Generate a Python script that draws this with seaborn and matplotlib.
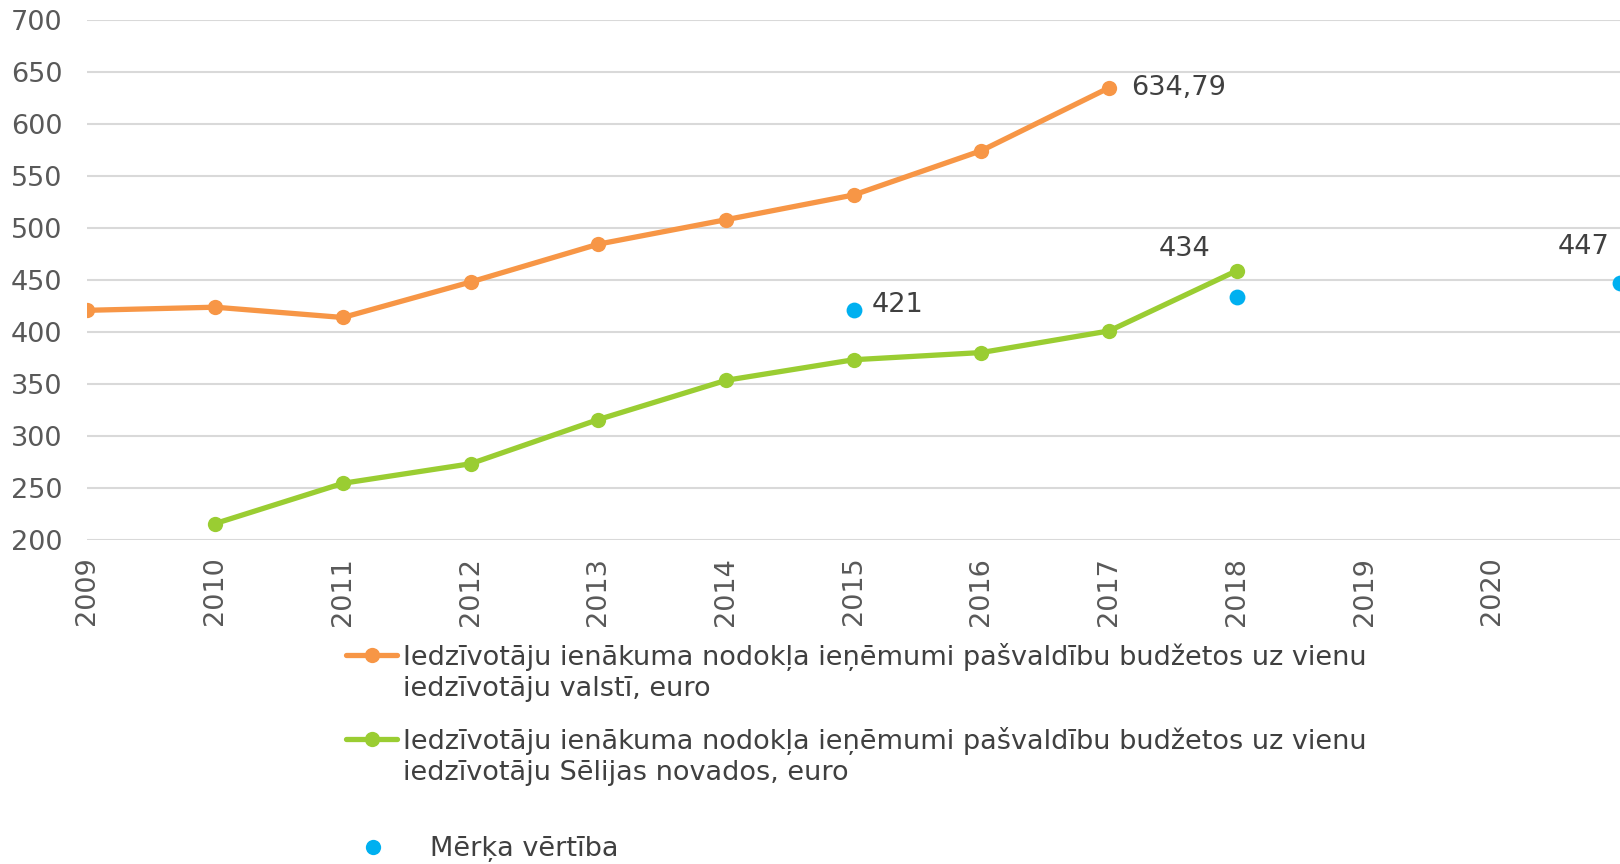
import pandas as pd
import seaborn as sns
import matplotlib.pyplot as plt
from matplotlib.lines import Line2D

# --- data ---
years = [2009, 2010, 2011, 2012, 2013, 2014, 2015, 2016, 2017, 2018]
valsts = [420.8, 423.8, 413.9, 448.0, 484.4, 507.9, 531.7, 574.3, 634.79, None]
selija = [None, 215.8, 254.5, 273.3, 315.8, 353.5, 373.3, 380.2, 401.0, 458.9]
target_years = [2015, 2018, 2021]
target_vals = [421, 434, 447]
target_labels = ['421', '434', '447']
tick_years = list(range(2009, 2021))

name_valsts = 'Iedzīvotāju ienākuma nodokļa ieņēmumi pašvaldību budžetos uz vienu\niedzīvotāju valstī, euro'
name_selija = 'Iedzīvotāju ienākuma nodokļa ieņēmumi pašvaldību budžetos uz vienu\niedzīvotāju Sēlijas novados, euro'
name_target = 'Mērķa vērtība'

c_orange = '#F79646'
c_green = '#9ACD32'
c_blue = '#00B0F0'
txt = '#404040'
FS = 19.5

df = pd.DataFrame({'year': years, name_valsts: valsts, name_selija: selija})
long = df.melt(id_vars='year', var_name='series', value_name='value').dropna()
tdf = pd.DataFrame({'year': target_years, 'value': target_vals})

sns.set_theme(style='white')
plt.rcParams['font.family'] = ['DejaVu Sans']

fig = plt.figure(figsize=(16.2, 8.64), dpi=100)
ax = fig.add_axes([0.054, 0.375, 0.946, 0.602])

sns.lineplot(data=long, x='year', y='value', hue='series',
             palette={name_valsts: c_orange, name_selija: c_green},
             marker='o', markersize=11, markeredgewidth=0, linewidth=3.8,
             legend=False, ax=ax, zorder=3)
sns.scatterplot(data=tdf, x='year', y='value', color=c_blue, s=130,
                linewidth=0, ax=ax, zorder=4)

ax.set_xlim(2009, 2021)
ax.set_ylim(200, 700)
ax.set_yticks(range(200, 701, 50))
ax.set_xticks(tick_years)
ax.set_xticklabels([str(y) for y in tick_years], rotation=90)
ax.tick_params(axis='both', length=0, labelsize=FS, colors='#595959')
ax.tick_params(axis='x', pad=12)
ax.tick_params(axis='y', pad=18)
ax.yaxis.grid(True, color='#D9D9D9', linewidth=1.5)
ax.set_axisbelow(True)
for s in ax.spines.values():
    s.set_visible(False)
ax.set_xlabel('')
ax.set_ylabel('')

# data labels
ax.annotate('634,79', (years[8], valsts[8]), xytext=(16, 0), textcoords='offset points',
            ha='left', va='center', fontsize=FS, color=txt)
ax.annotate(target_labels[0], (target_years[0], target_vals[0]), xytext=(13, 4),
            textcoords='offset points', ha='left', va='center', fontsize=FS, color=txt)
ax.annotate(target_labels[1], (target_years[1], target_vals[1]), xytext=(-38, 34),
            textcoords='offset points', ha='center', va='center', fontsize=FS, color=txt)
ax.annotate(target_labels[2], (target_years[2], target_vals[2]), xytext=(-26, 26),
            textcoords='offset points', ha='center', va='center', fontsize=FS, color=txt)


# legend: one block per entry, second text line gets an empty handle
def legend_block(handle, label, top):
    first, *rest = label.split('\n')
    handles = [handle] + [Line2D([], [], lw=0)] * len(rest)
    leg = fig.legend(handles, [first] + rest, loc='upper left', bbox_to_anchor=(0.2136, top),
                     frameon=False, fontsize=FS, handlelength=1.9, handletextpad=0.2,
                     labelspacing=0.2, borderpad=0, borderaxespad=0, labelcolor=txt)
    return leg


h1 = Line2D([0], [0], color=c_orange, lw=3.8, marker='o', markersize=11, markeredgewidth=0)
h2 = Line2D([0], [0], color=c_green, lw=3.8, marker='o', markersize=11, markeredgewidth=0)
legend_block(h1, name_valsts, 0.256)
legend_block(h2, name_selija, 0.159)

h3 = Line2D([0], [0], color=c_blue, lw=0, marker='o', markersize=11, markeredgewidth=0)
fig.legend([h3], [name_target], loc='upper left', bbox_to_anchor=(0.222, 0.032),
           frameon=False, fontsize=FS, handlelength=1.0, handletextpad=1.6,
           borderpad=0, borderaxespad=0, labelcolor=txt)

fig.savefig('out.png', dpi=100)
